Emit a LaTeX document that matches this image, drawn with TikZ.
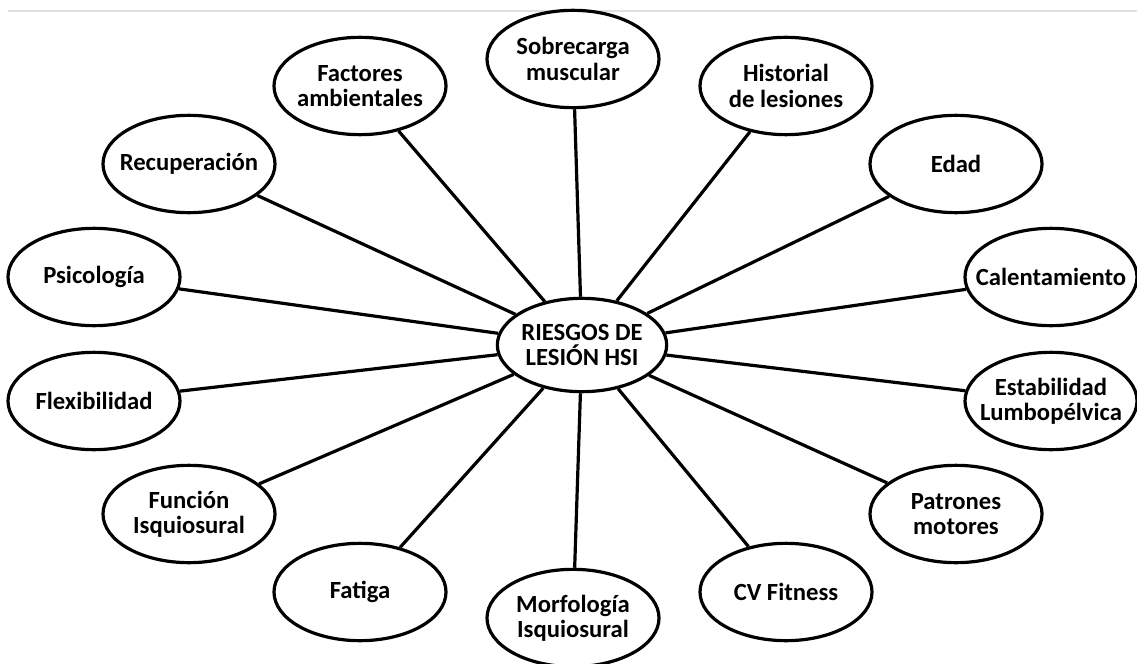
\documentclass[tikz,border=0pt]{standalone}
\usepackage{fontspec}
\setmainfont{Carlito}
\usetikzlibrary{shapes.geometric}

\tikzset{
  factor/.style={ellipse, draw, line width=2.4pt, fill=white,
    minimum width=129pt, minimum height=73pt,
    inner xsep=-11pt, inner ysep=1pt, align=center,
    font=\bfseries\fontsize{18.5}{19}\selectfont},
  centro/.style={factor, minimum width=127pt, minimum height=70pt},
  conector/.style={line width=2.4pt},
  borde/.style={line width=1.5pt, black!12}
}

\begin{document}
\begin{tikzpicture}[x=0.75pt, y=-0.75pt]
  % 设置画布大小
  \useasboundingbox (0,0) rectangle (1137,663);
  % 顶部的灰线
  \draw[borde] (8,11) -- (1137,11);

  % 中心节点
  \node[centro] (riesgo) at (582,345) {RIESGOS DE\\LESIÓN HSI};

  % 周围的因素
  \node[factor] (sobrecarga) at (573,59) {Sobrecarga\\muscular};
  \node[factor] (historial) at (786,86) {Historial\\de lesiones};
  \node[factor] (edad) at (956,164) {Edad};
  \node[factor] (calentamiento) at (1051,277) {Calentamiento};
  \node[factor] (estabilidad) at (1051,401) {Estabilidad\\Lumbopélvica};
  \node[factor] (patrones) at (956,514) {Patrones\\motores};
  \node[factor] (fitness) at (786,592) {CV Fitness};
  \node[factor] (morfologia) at (573,618) {Morfología\\Isquiosural};
  \node[factor] (fatiga) at (360,592) {Fatiga};
  \node[factor] (funcion) at (189,514) {Función\\Isquiosural};
  \node[factor] (flexibilidad) at (94,401) {Flexibilidad};
  \node[factor] (psicologia) at (94,277) {Psicología};
  \node[factor] (recuperacion) at (189,164) {Recuperación};
  \node[factor] (factores) at (360,86) {Factores\\ambientales};

  % 连接线
  \foreach \n in {sobrecarga,historial,edad,calentamiento,estabilidad,patrones,
                  fitness,morfologia,fatiga,funcion,flexibilidad,psicologia,
                  recuperacion,factores}
    \draw[conector] (riesgo) -- (\n);
\end{tikzpicture}
\end{document}
